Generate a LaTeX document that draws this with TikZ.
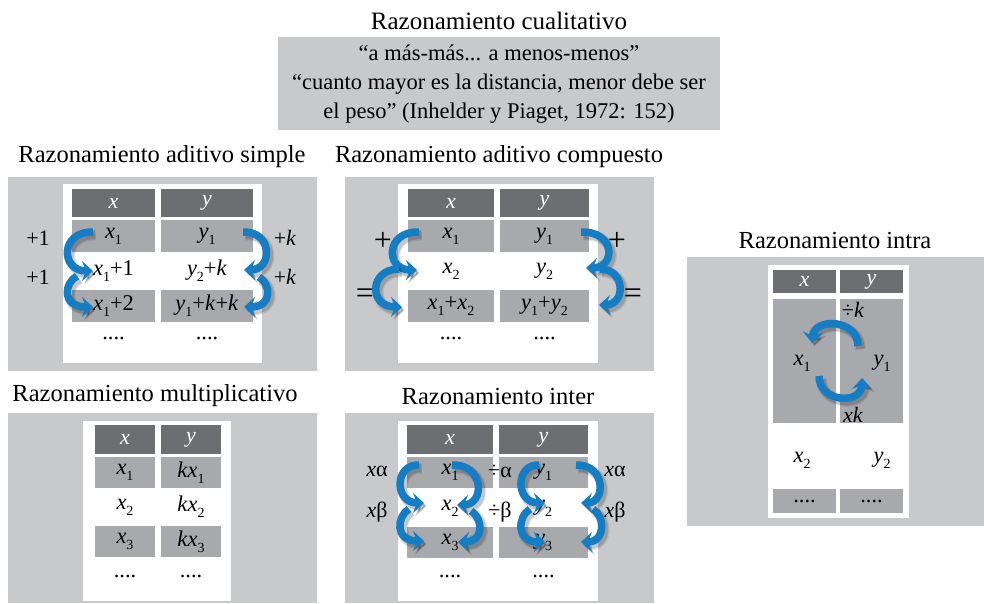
\documentclass[tikz,border=0pt]{standalone}
\usepackage{fontspec}
\setmainfont{Liberation Serif}
\usetikzlibrary{arrows.meta}
\definecolor{panelgray}{RGB}{200,201,203}
\definecolor{hdrgray}{RGB}{109,110,113}
\definecolor{cellgray}{RGB}{167,169,172}
\definecolor{arrblue}{RGB}{20,125,195}
\newcommand\sbs[1]{\raisebox{-0.28em}{\fontsize{14}{14}\selectfont #1}}
\newcommand\myx[1]{\textit{x}\sbs{#1}}
\newcommand\myy[1]{\textit{y}\sbs{#1}}
\newcommand\bluearrow[1]{%
  \draw[arrshade, line width=11pt, opacity=0.08] #1;
  \draw[arrshade, line width=8.5pt, opacity=0.15] #1;
  \draw[arrmain] #1;}
\tikzset{
  every node/.style={inner sep=0pt, font=\fontsize{22.5}{26}\selectfont},
  panel/.style={fill=panelgray},
  inner/.style={fill=white},
  hdr/.style={fill=hdrgray, text=white, font=\fontsize{22}{26}\selectfont\itshape},
  cell/.style={fill=cellgray},
  ttl/.style={font=\fontsize{24.5}{29}\selectfont},
  lbl/.style={font=\fontsize{22}{26}\selectfont},
  big/.style={font=\fontsize{32}{36}\selectfont},
  arrmain/.style={draw=arrblue, line width=7.5pt, -{Stealth[length=11pt,width=20pt,inset=4pt]}},
  arrshade/.style={draw=black, transform canvas={xshift=2.5pt,yshift=-3pt}, -{Stealth[length=11pt,width=20pt,inset=4pt]}},
}
\begin{document}
\begin{tikzpicture}[x=1pt,y=-1pt]
\useasboundingbox (0,0) rectangle (984,603);
% ---------- qualitative ----------
\node[ttl, font=\fontsize{25}{30}\selectfont] (tQ) at (499,21) {Razonamiento cualitativo};
\node[panel, minimum width=442pt, minimum height=93pt] (qB) at (499,83.5) {};
\node[align=center, font=\fontsize{22.5}{29}\selectfont] (qT) at (499,84) {“a más-más... a menos-menos”\\“cuanto mayor es la distancia, menor debe ser\\el peso” (Inhelder y Piaget, 1972: 152)};
% ---------- A: aditivo simple ----------
\node[ttl] (tA) at (162,157) {Razonamiento aditivo simple};
\node[panel, minimum width=309pt, minimum height=194pt] (pA) at (162.5,274) {};
\node[inner, minimum width=199pt, minimum height=179pt] (wA) at (162.5,273.5) {};
\node[hdr, minimum width=83pt, minimum height=28pt] (hAx) at (113.5,203) {x};
\node[hdr, minimum width=92pt, minimum height=28pt] (hAy) at (207,203) {y};
\node[cell, minimum width=83pt, minimum height=32pt] (a1x) at (113.5,236) {\myx{1}};
\node[cell, minimum width=92pt, minimum height=32pt] (a1y) at (207,236) {\myy{1}};
\node (a2x) at (113.5,271) {\myx{1}+1};
\node (a2y) at (207,271) {\myy{2}+\textit{k}};
\node[cell, minimum width=83pt, minimum height=32pt] (a3x) at (113.5,306) {\myx{1}+2};
\node[cell, minimum width=92pt, minimum height=32pt] (a3y) at (207,306) {\myy{1}+\textit{k}+\textit{k}};
\node (a4x) at (113.5,338) {....};
\node (a4y) at (207,338) {....};
\node[lbl] (la1) at (38,238) {+1};
\node[lbl] (la2) at (38,277) {+1};
\node[lbl] (ra1) at (285,238) {+\textit{k}};
\node[lbl] (ra2) at (285,277) {+\textit{k}};
\bluearrow{(93,232) .. controls (60,231) and (60,271) .. (93,271)}
\bluearrow{(77,276) .. controls (64,283) and (61,307) .. (93,307)}
\bluearrow{(243,232) .. controls (273,231) and (273,270) .. (244,270)}
\bluearrow{(259,277) .. controls (271,284) and (273,307) .. (244,307)}
% ---------- B: aditivo compuesto ----------
\node[ttl] (tB) at (499,157) {Razonamiento aditivo compuesto};
\node[panel, minimum width=309pt, minimum height=194pt] (pB) at (499.5,274) {};
\node[inner, minimum width=200pt, minimum height=179pt] (wB) at (498,273.5) {};
\node[hdr, minimum width=86pt, minimum height=28pt] (hBx) at (451,203) {x};
\node[hdr, minimum width=89pt, minimum height=28pt] (hBy) at (544.5,203) {y};
\node[cell, minimum width=86pt, minimum height=32pt] (b1x) at (451,236) {\myx{1}};
\node[cell, minimum width=89pt, minimum height=32pt] (b1y) at (544.5,236) {\myy{1}};
\node (b2x) at (451,271) {\myx{2}};
\node (b2y) at (544.5,271) {\myy{2}};
\node[cell, minimum width=86pt, minimum height=32pt] (b3x) at (451,306) {\myx{1}+\myx{2}};
\node[cell, minimum width=89pt, minimum height=32pt] (b3y) at (544.5,306) {\myy{1}+\myy{2}};
\node (b4x) at (451,338) {....};
\node (b4y) at (544.5,338) {....};
\node[big] (lb1) at (383,241) {+};
\node[big] (lb2) at (365,296) {=};
\node[big] (rb1) at (617,241) {+};
\node[big] (rb2) at (633,296) {=};
\bluearrow{(419,232) .. controls (385,231) and (385,270) .. (417,270)}
\bluearrow{(399,269) .. controls (369,269) and (368,307) .. (402,307)}
\bluearrow{(581,232) .. controls (616,231) and (616,268) .. (586,268)}
\bluearrow{(600,269) .. controls (626,269) and (626,305) .. (599,305)}
% ---------- C: multiplicativo ----------
\node[ttl] (tC) at (155,396) {Razonamiento multiplicativo};
\node[panel, minimum width=309pt, minimum height=190pt] (pC) at (162.5,508) {};
\node[inner, minimum width=148pt, minimum height=180pt] (wC) at (157,511) {};
\node[hdr, minimum width=60pt, minimum height=29pt] (hCx) at (125,439.5) {x};
\node[hdr, minimum width=60pt, minimum height=29pt] (hCy) at (191,439.5) {y};
\node[cell, minimum width=60pt, minimum height=31pt] (c1x) at (125,472.5) {\myx{1}};
\node[cell, minimum width=60pt, minimum height=31pt] (c1y) at (191,472.5) {\textit{k}\myx{1}};
\node (c2x) at (125,507) {\myx{2}};
\node (c2y) at (191,507) {\textit{k}\myx{2}};
\node[cell, minimum width=60pt, minimum height=31pt] (c3x) at (125,541.5) {\myx{3}};
\node[cell, minimum width=60pt, minimum height=31pt] (c3y) at (191,541.5) {\textit{k}\myx{3}};
\node (c4x) at (125,576) {....};
\node (c4y) at (191,576) {....};
% ---------- D: inter ----------
\node[ttl] (tD) at (498,396) {Razonamiento inter};
\node[panel, minimum width=309pt, minimum height=190pt] (pD) at (499.5,508) {};
\node[inner, minimum width=200pt, minimum height=180pt] (wD) at (498,511) {};
\node[hdr, minimum width=86pt, minimum height=29pt] (hDx) at (450,439.5) {x};
\node[hdr, minimum width=89pt, minimum height=29pt] (hDy) at (543.5,439.5) {y};
\node[cell, minimum width=86pt, minimum height=31pt] (d1x) at (450,472.5) {\myx{1}};
\node[cell, minimum width=89pt, minimum height=31pt] (d1y) at (543.5,472.5) {\myy{1}};
\node (d2x) at (450,508) {\myx{2}};
\node (d2y) at (543.5,508) {\myy{2}};
\node[cell, minimum width=86pt, minimum height=31pt] (d3x) at (450,542.5) {\myx{3}};
\node[cell, minimum width=89pt, minimum height=31pt] (d3y) at (543.5,542.5) {\myy{3}};
\node (d4x) at (450,576) {....};
\node (d4y) at (543.5,576) {....};
\node[lbl] (ld1) at (377,471) {\textit{x}α};
\node[lbl] (ld2) at (377,512) {\textit{x}β};
\node[lbl] (md1) at (500,471) {÷α};
\node[lbl] (md2) at (500,512) {÷β};
\node[lbl] (rd1) at (615,471) {\textit{x}α};
\node[lbl] (rd2) at (615,512) {\textit{x}β};
\bluearrow{(419,465) .. controls (394,464) and (394,503) .. (424,503)}
\bluearrow{(409,509) .. controls (397,516) and (394,541) .. (424,541)}
\bluearrow{(452,465) .. controls (485,464) and (485,505) .. (457,505)}
\bluearrow{(471,511) .. controls (483,518) and (485,542) .. (458,542)}
\bluearrow{(539,465) .. controls (515,464) and (515,503) .. (545,503)}
\bluearrow{(530,509) .. controls (518,516) and (515,542) .. (545,542)}
\bluearrow{(576,465) .. controls (606,464) and (606,503) .. (581,503)}
\bluearrow{(593,509) .. controls (605,516) and (606,542) .. (581,542)}
% ---------- E: intra ----------
\node[ttl] (tE) at (835,241) {Razonamiento intra};
\node[panel, minimum width=297pt, minimum height=269pt] (pE) at (835.5,391.5) {};
\node[inner, minimum width=141pt, minimum height=253pt] (wE) at (838.5,391.5) {};
\node[hdr, minimum width=63pt, minimum height=23pt] (hEx) at (804.5,281.5) {x};
\node[hdr, minimum width=63pt, minimum height=23pt] (hEy) at (871.5,281.5) {y};
\node[cell, minimum width=63pt, minimum height=124pt] (e1x) at (804.5,361) {};
\node[cell, minimum width=63pt, minimum height=124pt] (e1y) at (871.5,361) {};
\node[cell, minimum width=63pt, minimum height=24pt] (e3x) at (804.5,501) {....};
\node[cell, minimum width=63pt, minimum height=24pt] (e3y) at (871.5,501) {....};
\node (ex1) at (802,363) {\myx{1}};
\node (ey1) at (882,363) {\myy{1}};
\node (ex2) at (802,460) {\myx{2}};
\node (ey2) at (882,460) {\myy{2}};
\node[lbl] (edk) at (853,310) {÷\textit{k}};
\node[lbl] (exk) at (853,415) {\textit{xk}};
\bluearrow{(858,346) .. controls (858,319) and (814,317) .. (812,343)}
\bluearrow{(819,376) .. controls (819,403) and (862,405) .. (862,378)}
\end{tikzpicture}
\end{document}
